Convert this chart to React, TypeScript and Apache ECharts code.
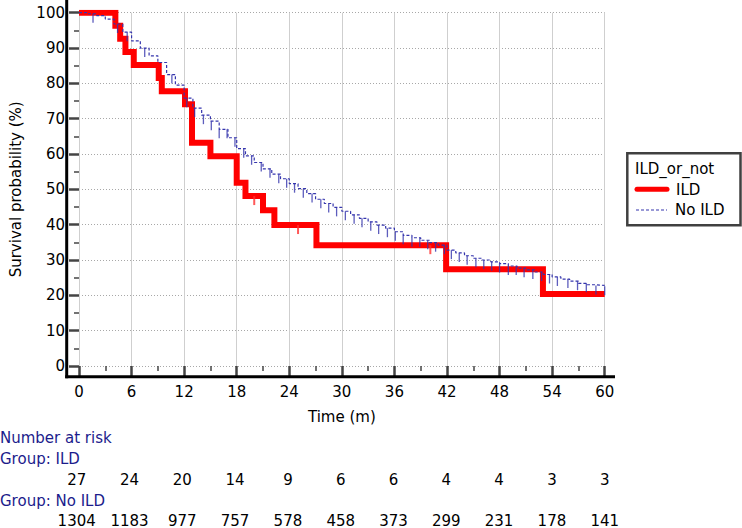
import { useEffect, useRef } from 'react';
import * as echarts from 'echarts';

// ---------- data ----------
const tickMonths = [0, 6, 12, 18, 24, 30, 36, 42, 48, 54, 60];
const ildAtRisk = [27, 24, 20, 14, 9, 6, 6, 4, 4, 3, 3];
const noIldAtRisk = [1304, 1183, 977, 757, 578, 458, 373, 299, 231, 178, 141];

// ILD Kaplan-Meier steps (time in months, survival %)
const ildTimes = [0, 4.15, 4.7, 5.3, 6.25, 9.1, 9.45, 12.1, 12.9, 15.0, 18.0, 19.0, 21.0, 22.3, 27.1, 41.9, 52.95, 60];
const ildSurv = [100, 96.3, 92.6, 88.9, 85.2, 81.5, 77.8, 74.1, 63.2, 59.4, 51.9, 48.1, 44.1, 39.9, 34.2, 27.4, 20.4, 20.4];
const ildCensorTimes = [20.0, 25.0, 40.1];

// No ILD Kaplan-Meier curve (read approximately month by month)
const noIldTimes = [0, 1, 2, 3, 4, 5, 6, 7, 8, 9, 10, 11, 12, 13, 14, 15, 16, 17, 18, 19, 20, 21, 22, 23, 24, 25, 26, 27, 28, 29, 30, 31, 32, 33, 34, 35, 36, 37, 38, 39, 40, 41, 42, 43, 44, 45, 46, 47, 48, 49, 50, 51, 52, 53, 54, 55, 56, 57, 58, 59, 60];
const noIldSurv = [100, 99.7, 99.2, 98.2, 96.8, 94.5, 92.0, 90.0, 87.8, 85.9, 82.5, 79.5, 75.8, 73.0, 71.0, 69.3, 67.0, 64.6, 61.5, 59.5, 57.6, 55.8, 54.3, 53.0, 51.6, 50.2, 48.8, 47.2, 46.0, 44.9, 43.8, 42.8, 41.8, 40.8, 39.9, 39.0, 38.0, 37.0, 36.3, 35.6, 34.9, 34.2, 32.8, 32.0, 31.2, 30.5, 30.0, 29.5, 29.0, 28.3, 27.7, 27.2, 26.6, 25.9, 25.2, 24.6, 24.0, 23.4, 23.0, 22.8, 22.6];
const noIldCensorTimes = [1.6, 4.4, 5.5, 7.5, 10.6, 12.3, 13.2, 14.2, 15.1, 16.0, 16.9, 17.8, 18.8, 19.7, 20.8, 21.8, 22.8, 23.7, 24.6, 25.6, 26.6, 27.6, 28.5, 29.4, 30.4, 31.4, 32.3, 33.3, 34.2, 35.2, 36.1, 37.0, 38.0, 38.9, 39.8, 40.7, 41.7, 42.5, 43.4, 44.3, 45.3, 46.2, 47.1, 48.0, 49.0, 49.9, 50.8, 51.8, 52.8, 53.7, 54.6, 55.8, 56.9, 57.9, 59.0, 60.0];

// ---------- layout ----------
const W = 742;
const H = 528;
const GRID = { left: 76.7, right: 137.3, top: 12.7, bottom: 162 };
const FONT = 'DejaVu Sans';
const RED = '#ff0000';
const BLUE = '#3535ad';
const NAVY = '#1c1c8c';
const GRID_COLOR = '#a8a8a8';

function stepValueAt(times: number[], values: number[], t: number) {
  let v = values[0];
  for (let i = 0; i < times.length; i++) if (times[i] <= t) v = values[i];
  return v;
}

function riskFormatter(counts: number[]) {
  return (v: number) => {
    const i = tickMonths.indexOf(Math.round(v * 1000) / 1000);
    return i >= 0 ? String(counts[i]) : '';
  };
}

export default function App() {
  const ref = useRef<HTMLDivElement>(null);

  useEffect(() => {
    if (!ref.current) return;
    const chart = echarts.init(ref.current, undefined, { renderer: 'svg' });

    const plotBottom = H - GRID.bottom;
    const xAxisLineY = plotBottom + 10.7;
    const yAxisLineX = GRID.left - 10;
    const plotRight = W - GRID.right;

    const riskAxis = (offset: number, counts: number[]) => ({
      type: 'value' as const,
      gridIndex: 1,
      min: 0,
      max: 60,
      interval: 6,
      position: 'bottom' as const,
      offset,
      axisLine: { show: false },
      axisTick: { show: false },
      splitLine: { show: false },
      axisLabel: { margin: 0, fontFamily: FONT, fontSize: 15, color: '#000', formatter: riskFormatter(counts) },
    });

    chart.setOption({
      animation: false,
      backgroundColor: '#ffffff',
      grid: [
        { left: GRID.left, right: GRID.right, top: GRID.top, bottom: GRID.bottom, containLabel: false },
        { left: GRID.left, right: GRID.right, top: GRID.top, bottom: GRID.bottom, containLabel: false },
      ],
      xAxis: [
        {
          type: 'value',
          gridIndex: 0,
          min: 0,
          max: 60,
          interval: 6,
          name: 'Time (m)',
          nameLocation: 'middle',
          nameGap: 43,
          nameTextStyle: { fontFamily: FONT, fontSize: 15, color: '#000' },
          axisLine: { show: false },
          axisTick: { show: true, inside: false, length: 10.7, lineStyle: { color: '#444', width: 2.5 } },
          minorTick: { show: true, splitNumber: 2, length: 5, lineStyle: { color: '#444', width: 1.5 } },
          axisLabel: { margin: 18, fontFamily: FONT, fontSize: 15, color: '#000' },
          splitLine: { show: true, lineStyle: { type: 'solid', color: '#cfcfcf', width: 1 } },
        },
        riskAxis(106.5, ildAtRisk),
        riskAxis(147.5, noIldAtRisk),
      ],
      yAxis: [
        {
          type: 'value',
          gridIndex: 0,
          min: 0,
          max: 100,
          interval: 10,
          name: 'Survival probability (%)',
          nameLocation: 'middle',
          nameGap: 56,
          nameTextStyle: { fontFamily: FONT, fontSize: 15, color: '#000' },
          axisLine: { show: false },
          axisTick: { show: true, inside: false, length: 10, lineStyle: { color: '#444', width: 2.5 } },
          minorTick: { show: true, splitNumber: 2, length: 5, lineStyle: { color: '#444', width: 1.5 } },
          axisLabel: { margin: 14, fontFamily: FONT, fontSize: 15, color: '#000' },
          splitLine: { show: true, lineStyle: { type: [1, 2], color: GRID_COLOR, width: 1 } },
        },
        {
          type: 'value',
          gridIndex: 1,
          min: 0,
          max: 100,
          show: false,
        },
      ],
      series: [
        {
          name: 'ILD',
          type: 'line',
          step: 'end',
          symbol: 'none',
          data: ildTimes.map((t, i) => [t, ildSurv[i]]),
          lineStyle: { color: RED, width: 6, join: 'miter' },
          itemStyle: { color: RED },
          z: 2,
        },
        {
          name: 'ILD censored',
          type: 'scatter',
          symbol: 'rect',
          symbolSize: [2, 9],
          symbolOffset: [0, 4.5],
          data: ildCensorTimes.map((t) => [t, stepValueAt(ildTimes, ildSurv, t)]),
          itemStyle: { color: '#ff3030' },
          z: 3,
        },
        {
          name: 'No ILD',
          type: 'line',
          step: 'end',
          symbol: 'none',
          data: noIldTimes.map((t, i) => [t, noIldSurv[i]]),
          lineStyle: { color: BLUE, width: 1.2, type: [3, 2] },
          itemStyle: { color: BLUE },
          z: 4,
        },
        {
          name: 'No ILD censored',
          type: 'scatter',
          symbol: 'rect',
          symbolSize: [1.3, 9],
          symbolOffset: [0, 4.5],
          data: noIldCensorTimes.map((t) => [t, stepValueAt(noIldTimes, noIldSurv, t)]),
          itemStyle: { color: BLUE },
          z: 4,
        },
      ],
    });

    chart.setOption({
      graphic: [
        {
          type: 'line',
          shape: { x1: yAxisLineX - 1.5, y1: xAxisLineY, x2: plotRight + 10.3, y2: xAxisLineY },
          style: { stroke: '#000', lineWidth: 3 },
          z: 5,
        },
        {
          type: 'line',
          shape: { x1: yAxisLineX, y1: 0, x2: yAxisLineX, y2: xAxisLineY + 1.5 },
          style: { stroke: '#000', lineWidth: 3 },
          z: 5,
        },
        // legend box
        {
          type: 'rect',
          shape: { x: 627.3, y: 153.3, width: 113.2, height: 72 },
          style: { fill: '#ffffff', stroke: '#404040', lineWidth: 2.5 },
          z: 1,
        },
        {
          type: 'text',
          x: 635,
          y: 168.5,
          style: { text: 'ILD_or_not', font: `15px "${FONT}"`, fill: '#000', verticalAlign: 'middle' },
          z: 6,
        },
        {
          type: 'line',
          shape: { x1: 637, y1: 189.3, x2: 667, y2: 189.3 },
          style: { stroke: RED, lineWidth: 5, lineCap: 'round' },
          z: 6,
        },
        {
          type: 'text',
          x: 676,
          y: 189.5,
          style: { text: 'ILD', font: `15px "${FONT}"`, fill: '#000', verticalAlign: 'middle' },
          z: 6,
        },
        {
          type: 'line',
          shape: { x1: 636, y1: 210, x2: 667, y2: 210 },
          style: { stroke: BLUE, lineWidth: 1.2, lineDash: [3, 2] },
          z: 6,
        },
        {
          type: 'text',
          x: 675,
          y: 210,
          style: { text: 'No ILD', font: `15px "${FONT}"`, fill: '#000', verticalAlign: 'middle' },
          z: 6,
        },
        // number at risk headings
        {
          type: 'text',
          x: 0,
          y: 438,
          style: { text: 'Number at risk', font: `15px "${FONT}"`, fill: NAVY, verticalAlign: 'middle' },
        },
        {
          type: 'text',
          x: 0,
          y: 458.5,
          style: { text: 'Group: ILD', font: `15px "${FONT}"`, fill: NAVY, verticalAlign: 'middle' },
        },
        {
          type: 'text',
          x: 0,
          y: 501,
          style: { text: 'Group: No ILD', font: `15px "${FONT}"`, fill: NAVY, verticalAlign: 'middle' },
        },
      ],
    });

    return () => chart.dispose();
  }, []);

  return (
    <div
      ref={ref}
      style={{ position: 'fixed', left: 0, top: 0, width: W, height: H, background: '#fff' }}
    />
  );
}
